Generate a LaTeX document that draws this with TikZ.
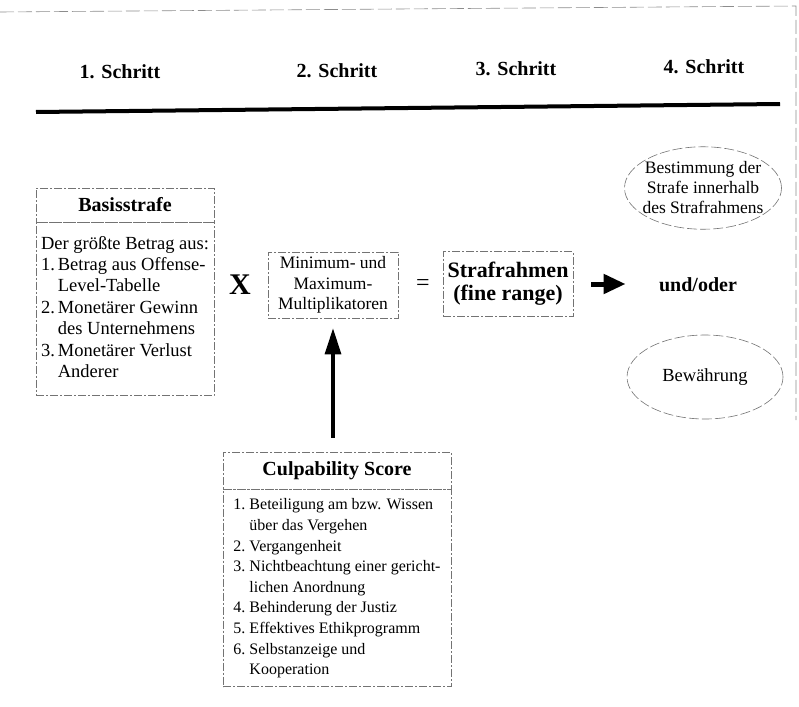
\documentclass[tikz,border=0pt]{standalone}
\usepackage{fontspec}
\setmainfont{Liberation Serif}
\usetikzlibrary{positioning,arrows.meta,shapes.geometric}

\tikzset{
	kasten/.style = {draw=black!55, dash pattern=on 8pt off 2pt on 2pt off 2pt,
		line width=0.6pt, inner sep=0pt},
	oval/.style   = {ellipse, draw=black!55, dash pattern=on 10pt off 3pt,
		line width=0.6pt},
	kopf/.style   = {font=\bfseries\fontsize{20}{24}\selectfont},
	pfeil/.style  = {line width=3.2pt, -{Triangle[length=26pt,width=16pt]}},
}

\begin{document}
\begin{tikzpicture}[x=1pt,y=-1pt]
		\useasboundingbox (0,0) rectangle (799,706);
		% Rand der Vorlage
		\draw[black!45, dash pattern=on 14pt off 4pt, line width=0.6pt]
		(0,12) -- (796,6) -- (796,420);

		% Schritte
		\node[kopf] (s1) at (120,72) {1. Schritt};
		\node[kopf] (s2) at (337,71) {2. Schritt};
		\node[kopf] (s3) at (516,69) {3. Schritt};
		\node[kopf] (s4) at (704,67) {4. Schritt};
		\draw[line width=4pt] (36,112) -- (780,104);

		% 1. Schritt
		\node[kasten, kopf, minimum width=178pt, minimum height=34pt]
		(basisKopf) at (125,205) {Basisstrafe};
		\node[kasten, below=0pt of basisKopf, minimum width=178pt,
		minimum height=173pt, align=left,
		font=\fontsize{18.5}{21.4}\selectfont] (basisListe)
		{\begin{tabular}{@{}l@{\hspace{3pt}}l@{}}
				\multicolumn{2}{@{}l@{}}{Der größte Betrag aus:}\\
				1. & Betrag aus Offense-\\
				   & Level-Tabelle\\
				2. & Monetärer Gewinn\\
				   & des Unternehmens\\
				3. & Monetärer Verlust\\
				   & Anderer
		\end{tabular}};

		\node[font=\bfseries\fontsize{30}{30}\selectfont] (mal) at (240,285) {X};

		% 2. Schritt
		\node[kasten, minimum width=130pt, minimum height=66pt, align=center,
		font=\fontsize{17.5}{20.5}\selectfont]
		(multi) at (333,285) {Minimum- und\\Maximum-\\Multiplikatoren};

		\node[font=\fontsize{24}{24}\selectfont] (gleich) at (423,285) {=};

		% 3. Schritt
		\node[kasten, minimum width=130pt, minimum height=65pt, align=center,
		font=\bfseries\fontsize{22}{23}\selectfont]
		(rahmen) at (508,284) {Strafrahmen\\(fine range)};

		% 4. Schritt
		\node[kopf] (undoder) at (698,285) {und/oder};
		\node[oval, inner xsep=-5pt, inner ysep=3pt, align=center,
		font=\fontsize{17.5}{20}\selectfont]
		(bestimmung) at (703,188) {Bestimmung der\\Strafe innerhalb\\des Strafrahmens};
		\node[oval, minimum width=156pt, minimum height=84pt,
		font=\fontsize{18.5}{20}\selectfont] (bewaehrung) at (705,377) {Bewährung};

		% Culpability Score
		\node[kasten, kopf, minimum width=228pt, minimum height=37pt]
		(culpKopf) at (337,470.5) {Culpability Score};
		\node[kasten, below=0pt of culpKopf, minimum width=228pt,
		minimum height=197pt, align=left,
		font=\fontsize{16}{20.6}\selectfont] (culpListe)
		{\begin{tabular}{@{}l@{\hspace{4pt}}l@{}}
				1. & Beteiligung am bzw. Wissen\\
				   & über das Vergehen\\
				2. & Vergangenheit\\
				3. & Nichtbeachtung einer gericht-\\
				   & lichen Anordnung\\
				4. & Behinderung der Justiz\\
				5. & Effektives Ethikprogramm\\
				6. & Selbstanzeige und\\
				   & Kooperation
		\end{tabular}};

		\path
		(culpKopf.north -| multi.south)
		edge [pfeil, shorten <=14pt, shorten >=10pt] (multi.south)
		(rahmen.east)
		edge [pfeil, line width=5pt, -{Triangle[length=22pt,width=19pt]},
		shorten <=18pt, shorten >=30pt] (rahmen.east -| undoder.west);
\end{tikzpicture}
\end{document}
